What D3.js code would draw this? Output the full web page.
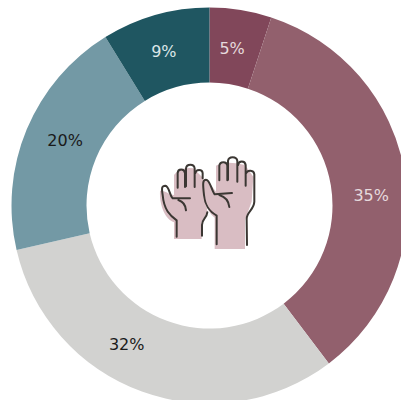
<!DOCTYPE html>
<html><head><meta charset="utf-8">
<script src="https://cdn.jsdelivr.net/npm/d3@7"></script>
<style>html,body{margin:0;padding:0;background:#fff;overflow:hidden}svg{display:block}</style>
</head><body>
<svg id="c" width="401" height="400"></svg>
<script>
const categories = ["a","b","c","d","e"];
const values = [5.1,35,32,20,8.9];
const labels = ["5%","35%","32%","20%","9%"];
const colors = ["#81475a","#92606d","#d2d2d0","#7399a5","#1f5661"];
const labelColors = ["#e6dadd","#e6dadd","#1a1a1a","#1a1a1a","#dde6e8"];
const labelAngleShift = [-0.9,6,10.8,1.7,-0.6]; // degrees, as placed in the reference
const labelRadius = [159,162,162,158.5,161];

const cx = 209.5, cy = 205.5, R = 198, r = 123;
const svg = d3.select("#c");
const pie = d3.pie().value(d=>d).sort(null);
const arc = d3.arc().innerRadius(r).outerRadius(R);
const g = svg.append("g").attr("transform",`translate(${cx},${cy})`);
const arcs = pie(values);
g.selectAll("path").data(arcs).join("path").attr("d",arc).attr("fill",(d,i)=>colors[i]);
g.selectAll("text").data(arcs).join("text")
 .attr("x",(d,i)=>{const a=(d.startAngle+d.endAngle)/2+labelAngleShift[i]*Math.PI/180;return labelRadius[i]*Math.sin(a);})
 .attr("y",(d,i)=>{const a=(d.startAngle+d.endAngle)/2+labelAngleShift[i]*Math.PI/180;return -labelRadius[i]*Math.cos(a);})
 .attr("text-anchor","middle").attr("dominant-baseline","central")
 .attr("font-family","DejaVu Sans").attr("font-size",16)
 .attr("fill",(d,i)=>labelColors[i]).text((d,i)=>labels[i]);

// hands icon
const icon = svg.append("g").attr("transform","translate(150,145) scale(0.3333)");
const pink="#d9bdc3", ink="#3b3733";
icon.append("path").attr("fill",pink).attr("d","M30 138 C45 135 55 150 72 150 L72 90 Q90 65 130 70 L160 100 L172 200 L155 230 L155 282 L72 282 L72 232 C45 222 28 180 30 138Z");
icon.append("path").attr("fill",pink).attr("d","M160 105 C175 105 190 130 198 140 L198 62 Q225 45 285 60 L310 95 L305 170 L285 225 L285 312 L194 312 L194 218 C165 195 158 150 160 105Z");
const strokes = [
 "M80 275 L80 226 C60 212 42 195 38 150 C34 128 36 122 46 122 C58 124 58 150 68 160 L120 160",
 "M85 165 C100 170 107 180 108 196",
 "M83 128 L83 84 C84 70 103 70 105 84 L105 126",
 "M108 124 L108 70 C110 56 132 56 134 70 L134 126",
 "M136 84 C138 72 157 72 158 84 L158 100",
 "M172 202 C170 220 156 222 156 240 L156 272",
 "M200 298 L200 212 C175 198 165 180 162 150 C158 115 158 104 168 104 C180 104 184 135 194 148 L246 144",
 "M208 150 C228 156 236 168 238 186",
 "M208 106 L208 62 C210 48 230 48 232 62 L232 106",
 "M234 104 L234 48 C236 33 260 33 262 48 L262 110",
 "M264 60 C266 46 285 46 287 60 L287 122",
 "M289 84 C292 74 312 74 313 88 L313 170 C312 195 290 200 290 222 L291 300"
];
icon.selectAll("path.s").data(strokes).join("path").attr("class","s").attr("d",d=>d)
 .attr("fill","none").attr("stroke",ink).attr("stroke-width",6).attr("stroke-linecap","round").attr("stroke-linejoin","round");
</script>
</body></html>
